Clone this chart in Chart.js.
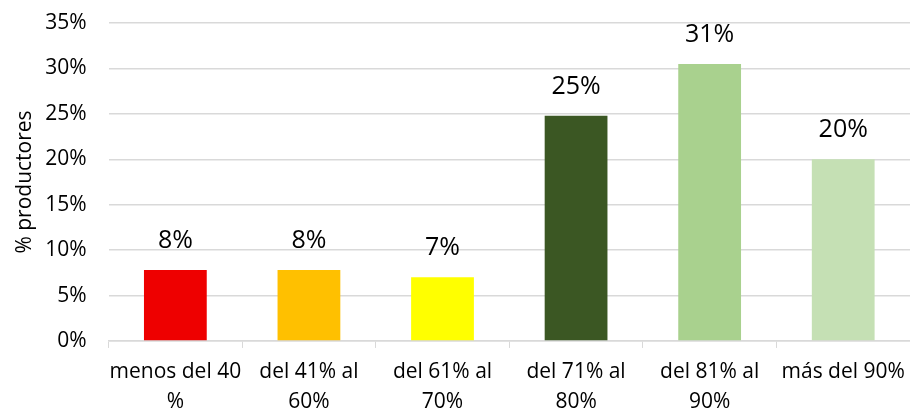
<!DOCTYPE html>
<html>
<head>
<meta charset="utf-8">
<script src="https://cdn.jsdelivr.net/npm/chart.js@4"></script>
<style>
    html, body { margin: 0; padding: 0; background: #ffffff; }
    #wrap { width: 910px; height: 410px; }
</style>
</head>
<body>
<div id="wrap"><canvas id="chart" width="910" height="410"></canvas></div>
<script>
const categories = [
    ["menos del 40", "%"],
    ["del 41% al", "60%"],
    ["del 61% al", "70%"],
    ["del 71% al", "80%"],
    ["del 81% al", "90%"],
    "más del 90%",
];
const productores = [7.8, 7.8, 7.0, 24.8, 30.5, 20.0];
const barColors = ["#ee0000", "#ffc000", "#ffff00", "#3b5723", "#a9d18e", "#c5e0b4"];
const yTicks = [0, 5, 10, 15, 20, 25, 30, 35];

const FONT = "'Open Sans', Lato, sans-serif";
const GRID = "#d9d9d9";

// draws the "25%" style labels above each bar
const valueLabels = {
    id: "valueLabels",
    afterDatasetsDraw(chart) {
        const ctx = chart.ctx;
        const meta = chart.getDatasetMeta(0);
        ctx.save();
        ctx.font = `25px ${FONT}`;
        ctx.fillStyle = "#000000";
        ctx.textAlign = "center";
        ctx.textBaseline = "middle";
        meta.data.forEach((bar, i) => {
            ctx.fillText(`${Math.round(productores[i])}%`, bar.x, bar.y - 29);
        });
        ctx.restore();
    },
};

new Chart(document.getElementById("chart"), {
    type: "bar",
    data: {
        labels: categories,
        datasets: [{
            data: productores,
            backgroundColor: barColors,
            categoryPercentage: 1,
            barPercentage: 0.47,
        }],
    },
    options: {
        responsive: false,
        animation: false,
        layout: { padding: { top: 23, right: -7, left: 12, bottom: -16 } },
        plugins: { legend: { display: false }, tooltip: { enabled: false } },
        scales: {
            x: {
                grid: { display: true, drawOnChartArea: false, color: GRID, tickLength: 7, offset: true },
                border: { color: GRID, width: 1.5 },
                ticks: { color: "#000000", font: { family: FONT, size: 21, lineHeight: 1.43 }, padding: 9, maxRotation: 0, autoSkip: false },
                afterFit(axis) {
                    // plot runs to the right edge, like the original
                    axis.paddingRight = 0;
                },
            },
            y: {
                min: 0,
                max: 35,
                afterBuildTicks(axis) {
                    axis.ticks = yTicks.map(v => ({ value: v }));
                },
                grid: { color: GRID, lineWidth: 1.5, drawTicks: true, tickLength: 20, tickColor: "rgba(0,0,0,0)" },
                border: { display: false },
                ticks: {
                    color: "#000000",
                    font: { family: FONT, size: 21 },
                    padding: 2,
                    callback: v => `${v}%`,
                },
                title: {
                    display: true,
                    text: "% productores",
                    color: "#000000",
                    font: { family: FONT, size: 21 },
                    padding: { top: 0, bottom: 6 },
                },
            },
        },
    },
    plugins: [valueLabels],
});
</script>
</body>
</html>
